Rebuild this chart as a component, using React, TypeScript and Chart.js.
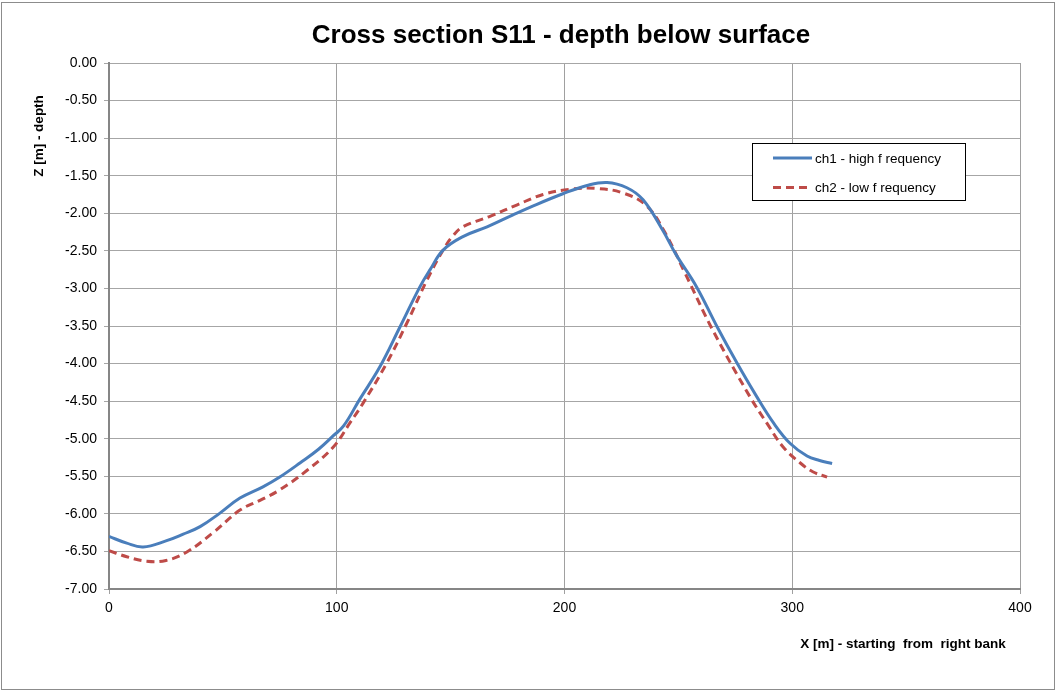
import React, { useEffect, useRef } from "react";
import { Chart, registerables } from "chart.js";

Chart.register(...registerables);

const titleText = "Cross section S11 - depth below surface";
const xTitle = "X [m] - starting  from  right bank";
const yTitle = "Z [m] - depth";
const series1Label = "ch1 - high f requency";
const series2Label = "ch2 - low f requency";

const ch1X = [0, 7.8, 15, 25, 32.6, 40, 48.7, 57.5, 67.6, 75, 84, 92, 98.5, 103, 110, 119, 127.8, 136.5, 141, 146.7, 155.4, 166, 177.4, 184.8, 199.3, 209.9, 218.7, 227.4, 234.5, 243, 249, 258, 267, 275.5, 284.4, 292, 299, 306.5, 312, 317.5];
const ch1Z = [-6.30, -6.39, -6.44, -6.36, -6.27, -6.17, -5.99, -5.79, -5.64, -5.51, -5.32, -5.14, -4.96, -4.83, -4.48, -4.04, -3.51, -2.98, -2.75, -2.49, -2.31, -2.18, -2.02, -1.92, -1.74, -1.63, -1.59, -1.66, -1.82, -2.22, -2.55, -2.98, -3.51, -3.98, -4.44, -4.80, -5.06, -5.23, -5.29, -5.33];

const ch2X = [0, 7.8, 16.5, 25, 34, 45.7, 57.5, 66.3, 75, 87, 98.5, 106, 111.7, 122, 130.8, 139.6, 146.7, 151, 155.4, 167.3, 179, 190.6, 202.4, 214.3, 225.7, 236, 244, 253, 265, 281.4, 289, 296, 303.4, 309, 315.3];
const ch2Z = [-6.49, -6.57, -6.63, -6.62, -6.51, -6.25, -5.95, -5.82, -5.68, -5.42, -5.11, -4.78, -4.52, -3.99, -3.46, -2.89, -2.49, -2.30, -2.18, -2.04, -1.89, -1.75, -1.68, -1.67, -1.73, -1.90, -2.25, -2.80, -3.55, -4.44, -4.80, -5.11, -5.32, -5.44, -5.51];

const xTicksMin = 0;
const xTicksMax = 400;
const xStep = 100;
const yTicksMin = -7;
const yTicksMax = 0;
const yStep = 0.5;

const BLUE = "#4a7ebb";
const RED = "#be4b48";
const FONT = "'Liberation Sans', Arial, sans-serif";

const decorPlugin = {
  id: "decor",
  beforeDraw(chart: any) {
    const ctx = chart.ctx;
    ctx.save();
    ctx.fillStyle = "#ffffff";
    ctx.fillRect(0, 0, chart.width, chart.height);
    ctx.restore();
  },
  afterDraw(chart: any) {
    const ctx = chart.ctx;
    ctx.save();
    // outer border
    ctx.strokeStyle = "#8c8c8c";
    ctx.lineWidth = 1;
    ctx.strokeRect(1.5, 2.5, chart.width - 3, chart.height - 4);
    // title
    ctx.fillStyle = "#000000";
    ctx.font = `bold 26px ${FONT}`;
    ctx.textAlign = "center";
    ctx.textBaseline = "middle";
    ctx.fillText(titleText, 561, 36);
    // x title
    ctx.font = `bold 13.5px ${FONT}`;
    ctx.fillText(xTitle, 903, 644);
    // y title
    ctx.save();
    ctx.translate(39, 136);
    ctx.rotate(-Math.PI / 2);
    ctx.fillText(yTitle, 0, 0);
    ctx.restore();
    // legend
    ctx.fillStyle = "#ffffff";
    ctx.fillRect(752.5, 143.5, 213, 57);
    ctx.strokeStyle = "#000000";
    ctx.lineWidth = 1;
    ctx.strokeRect(752.5, 143.5, 213, 57);
    ctx.lineWidth = 3;
    ctx.strokeStyle = BLUE;
    ctx.beginPath();
    ctx.moveTo(773, 158);
    ctx.lineTo(812, 158);
    ctx.stroke();
    ctx.strokeStyle = RED;
    ctx.setLineDash([8, 5]);
    ctx.beginPath();
    ctx.moveTo(773, 187.5);
    ctx.lineTo(812, 187.5);
    ctx.stroke();
    ctx.setLineDash([]);
    ctx.fillStyle = "#000000";
    ctx.font = `13.5px ${FONT}`;
    ctx.textAlign = "left";
    ctx.fillText(series1Label, 815, 159);
    ctx.fillText(series2Label, 815, 188);
    ctx.restore();
  },
};

export default function App() {
  const ref = useRef<HTMLCanvasElement | null>(null);
  useEffect(() => {
    if (!ref.current) return;
    const d1 = ch1X.map((x, i) => ({ x, y: ch1Z[i] }));
    const d2 = ch2X.map((x, i) => ({ x, y: ch2Z[i] }));
    const chart = new Chart(ref.current, {
      type: "scatter",
      data: {
        datasets: [
          {
            label: series1Label,
            data: d1,
            showLine: true,
            borderColor: BLUE,
            backgroundColor: BLUE,
            borderWidth: 3,
            pointRadius: 0,
            tension: 0.4,
          },
          {
            label: series2Label,
            data: d2,
            showLine: true,
            borderColor: RED,
            backgroundColor: RED,
            borderWidth: 3,
            borderDash: [8, 5],
            pointRadius: 0,
            tension: 0.4,
          },
        ],
      },
      options: {
        responsive: false,
        animation: false,
        layout: { padding: { left: 0, right: 36, top: 63, bottom: 0 } },
        plugins: {
          legend: { display: false },
          title: { display: false },
          tooltip: { enabled: false },
        },
        scales: {
          x: {
            type: "linear",
            min: xTicksMin,
            max: xTicksMax,
            afterFit: (s: any) => {
              s.height = 102;
            },
            ticks: {
              stepSize: xStep,
              color: "#000000",
              font: { family: FONT, size: 14 },
              padding: 6,
              maxRotation: 0,
            },
            grid: { color: "#a0a0a0", lineWidth: 1, tickLength: 5, drawTicks: true },
            border: { display: true, color: "#868686", width: 2 },
          },
          y: {
            type: "linear",
            min: yTicksMin,
            max: yTicksMax,
            afterFit: (s: any) => {
              s.width = 109;
            },
            ticks: {
              stepSize: yStep,
              color: "#000000",
              font: { family: FONT, size: 14 },
              padding: 7,
              callback: (v: any) => Number(v).toFixed(2),
            },
            grid: { color: "#a6a6a6", lineWidth: 1, tickLength: 5, drawTicks: true },
            border: { display: true, color: "#868686", width: 2 },
          },
        },
      },
      plugins: [decorPlugin],
    } as any);
    return () => chart.destroy();
  }, []);
  return (
    <div style={{ position: "fixed", left: 0, top: 0, width: 1056, height: 691 }}>
      <canvas ref={ref} width={1056} height={691} style={{ width: 1056, height: 691, display: "block" }} />
    </div>
  );
}
